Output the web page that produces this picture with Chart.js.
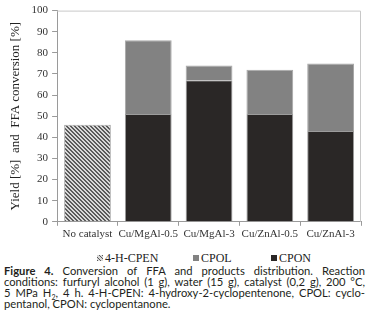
<!DOCTYPE html>
<html lang="en">
<head>
    <meta charset="UTF-8">
    <title>Figure 4</title>
    <script src="https://cdn.jsdelivr.net/npm/chart.js"></script>
    <style>
        body { margin: 0; background: #fff; width: 369px; height: 334px; overflow: hidden; }
        .chart-container { position: relative; width: 369px; height: 243px; }
        .legend { position: absolute; top: 251px; left: 0; width: 369px; font: 12px "Liberation Serif", serif; color: #222; }
        .legend span { position: absolute; white-space: nowrap; }
        .legend i { display: inline-block; width: 6px; height: 6px; margin-right: 2px; vertical-align: 1px; }
        .caption { position: absolute; top: 266px; left: 4px; width: 361px; font: 11.2px Lato, "Liberation Sans", sans-serif; color: #231f20; line-height: 10.9px; }
        .caption div { text-align: justify; text-align-last: justify; white-space: nowrap; }
        .caption div.last { text-align-last: left; }
    </style>
</head>
<body>
  <div class="chart-container">
    <canvas id="chartFFA"></canvas>
  </div>
  <div class="legend" id="legend"></div>
  <div class="caption">
    <div><b>Figure 4.</b> Conversion of FFA and products distribution. Reaction</div>
    <div>conditions: furfuryl alcohol (1 g), water (15 g), catalyst (0,2 g), 200 °C,</div>
    <div>5 MPa H<sub style="font-size:7px;line-height:0">2</sub>, 4 h. 4-H-CPEN: 4-hydroxy-2-cyclopentenone, CPOL: cyclo-</div>
    <div class="last">pentanol, CPON: cyclopentanone.</div>
  </div>

  <script>
    // data
    var catalysts = ['No catalyst', 'Cu/MgAl-0.5', 'Cu/MgAl-3', 'Cu/ZnAl-0.5', 'Cu/ZnAl-3'];
    var hcpenValues = [46, 0, 0, 0, 0];
    var cpolValues = [0, 35, 7, 21, 32];
    var cponValues = [0, 51, 67, 51, 43];
    var yTicks = [0, 10, 20, 30, 40, 50, 60, 70, 80, 90, 100];

    // hatch pattern for 4-H-CPEN
    function makeHatch() {
        var c = document.createElement('canvas');
        c.width = 4; c.height = 4;
        var g = c.getContext('2d');
        g.fillStyle = '#d8d8d8';
        g.fillRect(0, 0, 4, 4);
        g.fillStyle = '#5a5a5a';
        for (var i = 0; i < 4; i++) {
            g.fillRect(i, i, 1, 1);
            g.fillRect((i + 1) % 4, i, 1, 1);
        }
        return g.createPattern(c, 'repeat');
    }
    var hatch = makeHatch();

    // light frame around the plot area
    var frame = {
        id: 'frame',
        afterDraw: function(chart) {
            var a = chart.chartArea, ctx = chart.ctx;
            ctx.save();
            ctx.strokeStyle = '#c8c8c8';
            ctx.lineWidth = 1;
            ctx.beginPath();
            ctx.moveTo(a.left, a.top + 0.5);
            ctx.lineTo(a.right - 0.5, a.top + 0.5);
            ctx.lineTo(a.right - 0.5, a.bottom);
            ctx.stroke();
            ctx.restore();
        }
    };

    var serif = '"Liberation Serif", "Times New Roman", serif';
    var ctx = document.getElementById('chartFFA').getContext('2d');
    var chart = new Chart(ctx, {
        type: 'bar',
        data: {
            labels: catalysts,
            datasets: [
                { label: 'CPON', data: cponValues, backgroundColor: '#2a2726', borderColor: '#9c9c9c', borderWidth: 1 },
                { label: 'CPOL', data: cpolValues, backgroundColor: '#828282', borderColor: '#a8a8a8', borderWidth: 1 },
                { label: '4-H-CPEN', data: hcpenValues, backgroundColor: hatch, borderColor: '#b0b0b0', borderWidth: 1 }
            ]
        },
        options: {
            responsive: true,
            maintainAspectRatio: false,
            animation: false,
            layout: { padding: { top: -3, right: 8, left: 8, bottom: 0 } },
            datasets: { bar: { barPercentage: 0.77, categoryPercentage: 1 } },
            plugins: {
                legend: { display: false },
                tooltip: { enabled: false }
            },
            scales: {
                x: {
                    stacked: true,
                    grid: { offset: true, drawOnChartArea: false, color: '#9a9a9a', tickLength: 4 },
                    border: { color: '#9a9a9a' },
                    ticks: { color: '#333', font: { family: serif, size: 11 }, padding: 2, maxRotation: 0, autoSkip: false }
                },
                y: {
                    stacked: true,
                    min: 0,
                    max: 100,
                    afterBuildTicks: function(axis) { axis.ticks = yTicks.map(function(v) { return { value: v }; }); },
                    grid: { drawOnChartArea: false, color: '#9a9a9a', tickLength: 5 },
                    border: { color: '#9a9a9a' },
                    ticks: { color: '#333', font: { family: serif, size: 11 }, padding: 4 },
                    title: { display: true, text: 'Yield [%]  and  FFA conversion [%]', color: '#222', font: { family: serif, size: 13 }, padding: { top: 0, bottom: 4 } }
                }
            }
        },
        plugins: [frame]
    });

    // legend in the original order
    var legendItems = [
        { text: '4-H-CPEN', color: '#9a9a9a', x: 97 },
        { text: 'CPOL', color: '#828282', x: 193 },
        { text: 'CPON', color: '#2a2726', x: 271 }
    ];
    var legend = document.getElementById('legend');
    legendItems.forEach(function(it, i) {
        var s = document.createElement('span');
        s.style.left = it.x + 'px';
        var box = document.createElement('i');
        if (i === 0) {
            box.style.background = 'repeating-linear-gradient(45deg, #5a5a5a 0 1px, #d8d8d8 1px 2.5px)';
        } else {
            box.style.background = it.color;
        }
        s.appendChild(box);
        s.appendChild(document.createTextNode(it.text));
        legend.appendChild(s);
    });
  </script>
</body>
</html>
